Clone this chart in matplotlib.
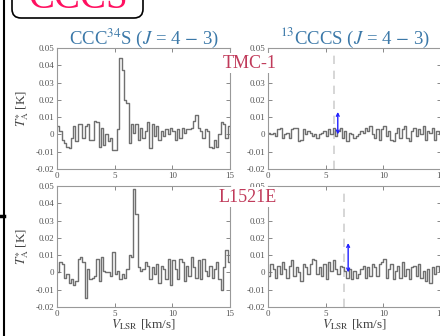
import numpy as np
import matplotlib
matplotlib.use("Agg")
import matplotlib.pyplot as plt
from matplotlib.patches import FancyBboxPatch
from matplotlib.lines import Line2D
from matplotlib.transforms import IdentityTransform

plt.rcParams["font.family"] = ["Liberation Serif", "DejaVu Serif"]
plt.rcParams["mathtext.fontset"] = "stix"

# channel centres (0.2 km/s channels)
vel = np.round(np.arange(0.1, 15.0, 0.2), 2)

# TMC-1, CCC34S
tmc1_34s = [0.005, 0.002, -0.003, -0.005, -0.007, -0.008, -0.002, 0.005, -0.004, 0.006,
            0.006, -0.002, 0.005, 0.006, -0.003, -0.003, 0.008, 0.007, -0.007, 0.004,
            -0.006, 0.000, -0.004, -0.002, -0.009, -0.009, 0.003, 0.044, 0.037, 0.020,
            0.018, -0.005, 0.006, 0.001, 0.006, -0.003, 0.004, -0.002, 0.002, 0.007,
            -0.008, 0.006, -0.001, 0.005, -0.003, 0.002, -0.001, 0.003, 0.000, 0.004,
            0.002, -0.003, 0.003, -0.002, 0.004, 0.001, 0.003, 0.003, 0.004, 0.008,
            0.011, 0.004, 0.002, -0.002, 0.003, 0.002, -0.007, -0.008, -0.003, -0.007,
            0.000, 0.007, 0.006, -0.002, 0.005]

# TMC-1, 13CCCS
tmc1_13c = [0.001, 0.000, 0.001, -0.001, 0.003, 0.004, -0.002, 0.000, 0.001, -0.002,
            0.003, 0.004, 0.004, -0.004, -0.003, 0.003, 0.000, 0.002, 0.001, -0.001,
            0.000, -0.002, 0.000, 0.001, 0.002, -0.001, 0.003, 0.000, 0.004, -0.001,
            0.002, 0.004, -0.002, 0.002, -0.004, 0.001, 0.000, -0.002, -0.001, 0.000,
            0.002, 0.001, 0.004, 0.002, 0.005, 0.000, -0.002, 0.003, -0.003, 0.003,
            0.005, -0.001, 0.002, -0.003, -0.004, 0.001, 0.004, -0.002, 0.003, 0.005,
            -0.002, -0.004, 0.002, 0.004, -0.001, 0.003, 0.000, 0.005, -0.003, 0.002,
            0.001, 0.004, -0.003, 0.002, 0.000]

# L1521E, CCC34S
l1521e_34s = [0.000, 0.006, 0.005, -0.003, -0.001, -0.006, -0.004, -0.007, -0.005, 0.008,
              0.009, 0.006, -0.015, 0.002, -0.004, -0.003, -0.002, 0.008, -0.005, 0.009,
              0.001, 0.000, 0.000, -0.002, 0.012, -0.001, 0.001, -0.004, -0.001, -0.003,
              0.002, 0.010, 0.009, 0.048, 0.034, 0.003, 0.001, 0.002, 0.006, 0.004,
              -0.004, 0.003, -0.001, 0.005, -0.006, 0.004, 0.002, -0.004, 0.008, -0.007,
              0.007, 0.002, -0.004, 0.008, 0.006, -0.005, 0.004, -0.002, 0.009, 0.003,
              -0.003, 0.007, -0.004, 0.008, 0.001, -0.002, 0.004, -0.003, 0.002, 0.006,
              -0.004, -0.010, 0.003, 0.013, 0.006]

# L1521E, 13CCCS
l1521e_13c = [-0.002, 0.005, 0.002, -0.003, 0.004, -0.001, 0.006, 0.002, -0.003, 0.004,
              0.007, -0.002, 0.003, 0.000, -0.005, 0.005, 0.003, -0.001, 0.005, 0.008,
              0.007, -0.001, 0.003, -0.002, 0.005, -0.004, 0.006, 0.001, 0.007, 0.002,
              -0.001, 0.004, 0.003, 0.001, -0.003, 0.002, -0.004, 0.001, -0.003, -0.001,
              0.002, 0.004, -0.003, 0.003, -0.002, 0.005, 0.003, -0.002, 0.005, 0.006,
              0.008, -0.003, 0.002, 0.005, -0.004, 0.001, 0.004, -0.003, 0.006, -0.002,
              0.002, -0.004, 0.003, 0.004, -0.002, 0.005, -0.003, 0.001, -0.005, 0.002,
              -0.006, 0.003, -0.001, 0.004, 0.001]

titles = ["CCC$^{34}$S ($J$ = 4 $-$ 3)", "$^{13}$CCCS ($J$ = 4 $-$ 3)"]
sources = ["TMC-1", "L1521E"]
vsys = [5.7, 6.6]          # dashed line positions
arrow_x = [6.05, 6.95]     # blue arrows
arrow_top = [0.013, 0.017]
yticks = [-0.02, -0.01, 0, 0.01, 0.02, 0.03, 0.04, 0.05]
ylabels = ["-0.02", "-0.01", "0", "0.01", "0.02", "0.03", "0.04", "0.05"]

W, H = 440, 336
fig = plt.figure(figsize=(W / 100, H / 100), dpi=100)

spectra = [[tmc1_34s, tmc1_13c], [l1521e_34s, l1521e_13c]]
lefts = [57, 268]
tops = [48, 186]
pw, ph = 173, 121

gray = "#707070"
for r in range(2):
    for c in range(2):
        ax = fig.add_axes([lefts[c] / W, 1 - (tops[r] + ph) / H, pw / W, ph / H])
        ax.step(vel, spectra[r][c], where="mid", color=gray, lw=1.0)
        ax.set_xlim(0, 15)
        ax.set_ylim(-0.02, 0.05)
        ax.set_xticks([0, 5, 10, 15])
        ax.set_yticks(yticks)
        ax.set_yticklabels(ylabels)
        ax.tick_params(direction="in", top=True, right=True, length=3, width=0.7,
                       colors="#888888", labelsize=6.5, labelcolor="#555555", pad=2)
        for s in ax.spines.values():
            s.set_color("#999999")
            s.set_linewidth(0.8)
        if c == 0:
            ax.set_ylabel("$T_{\\rm A}^{\\ast}$ [K]", fontsize=9.5, color="#444444", labelpad=3)
        if r == 1:
            ax.set_xlabel("$V_{\\rm LSR}$ [km/s]", fontsize=9.5, color="#444444", labelpad=0)
        if r == 0:
            ax.set_title(titles[c], fontsize=13.5, color="#3b78a8", pad=3)
        if c == 1:
            ax.axvline(vsys[r], color="#d0d0d0", ls=(0, (5, 4)), lw=1.2, zorder=0)
            ax.annotate("", xy=(arrow_x[r], arrow_top[r]), xytext=(arrow_x[r], 0.0),
                        arrowprops=dict(arrowstyle="<->", color="#2020ff", lw=1.0,
                                        mutation_scale=5, shrinkA=0, shrinkB=0))

# source names over the right panels' axis labels
fig.text(277 / W, 1 - 63 / H, sources[0], fontsize=13, color="#c03a5a",
         ha="right", va="center",
         bbox=dict(facecolor="white", edgecolor="none", pad=1), zorder=10)
fig.text(277 / W, 1 - 197 / H, sources[1], fontsize=13, color="#c03a5a",
         ha="right", va="center",
         bbox=dict(facecolor="white", edgecolor="none", pad=1), zorder=10)

# cut-off "CCCS" label box at the top-left
box = FancyBboxPatch((12, H - 18), 131, 40, boxstyle="round,pad=0,rounding_size=9",
                     transform=IdentityTransform(), facecolor="white",
                     edgecolor="black", lw=1.2)
fig.add_artist(box)
fig.text(78 / W, 1 - 8 / H, "CCCS", fontsize=28, color="#ff1060",
         ha="center", va="baseline")

# frame line at the left edge
fig.add_artist(Line2D([4, 4], [0, H], transform=IdentityTransform(), color="black", lw=1.5))
fig.add_artist(Line2D([0, 4], [H - 216, H - 216], transform=IdentityTransform(),
                      color="black", lw=2.5))

fig.savefig("out.png", dpi=100)
